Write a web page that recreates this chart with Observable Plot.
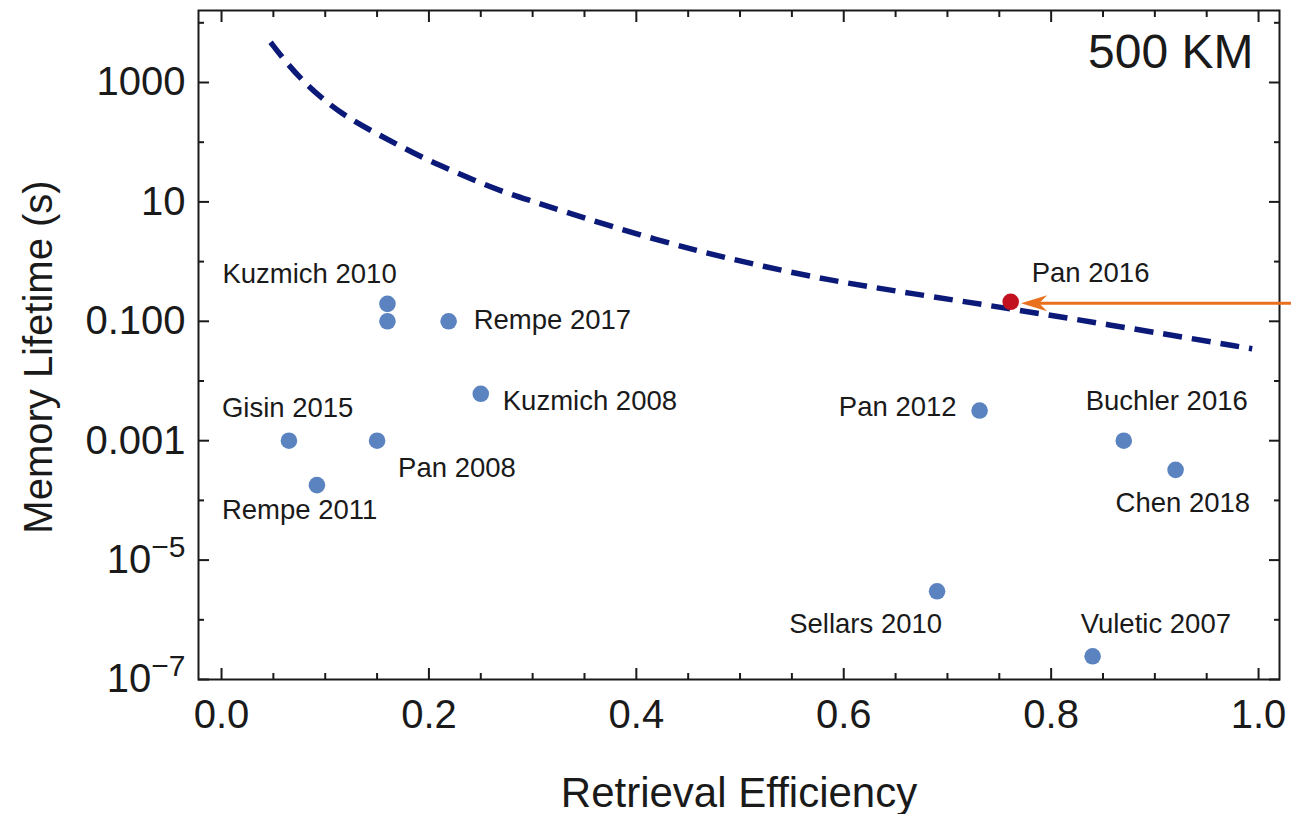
<!DOCTYPE html>
<html>
<head>
<meta charset="utf-8">
<script src="https://cdn.jsdelivr.net/npm/d3@7"></script>
<script src="https://cdn.jsdelivr.net/npm/@observablehq/plot@0.6"></script>
<style>
  body { margin: 0; background: #fff; }
  #chart svg { overflow: visible; display: block; }
</style>
</head>
<body>
<div id="chart"></div>
<script>
// ---------- data ----------
const studies    = ["Kuzmich 2010", "Kuzmich 2010", "Rempe 2017", "Kuzmich 2008", "Gisin 2015", "Pan 2008", "Rempe 2011", "Pan 2012", "Buchler 2016", "Chen 2018", "Sellars 2010", "Vuletic 2007"];
const efficiency = [0.160, 0.160, 0.219, 0.250, 0.065, 0.150, 0.092, 0.731, 0.870, 0.920, 0.690, 0.840];
const lifetime   = [0.196, 0.100, 0.100, 0.0061, 0.001, 0.001, 1.8e-4, 0.0032, 0.001, 3.25e-4, 3.0e-6, 2.45e-7];
const showLabel  = [true, false, true, true, true, true, true, true, true, true, true, true];

const highlightStudy = "Pan 2016";
const highlightEff = 0.761;
const highlightLife = 0.212;

// 500 km requirement curve
const curveEff  = [0.0473, 0.0634, 0.0826, 0.1051, 0.1273, 0.1501, 0.1743, 0.1996, 0.2257, 0.2514, 0.2770, 0.3028, 0.3269, 0.4202, 0.5005, 0.5841, 0.6612, 0.7609, 0.8798, 0.9939];
const curveLife = [4730, 2055, 891, 412, 226, 138, 82.5, 49.3, 31.4, 20.1, 13.7, 9.9, 7.18, 2.25, 1.0, 0.49, 0.30, 0.162, 0.0748, 0.0346];

// arrow pointing at the highlighted study
const arrowFrom = {eff: 1.032, life: 0.2};
const arrowTo   = {eff: 0.771, life: 0.2};
const arrowNotch = 0.788;

const distanceLabel = "500 KM";
const xTitle = "Retrieval Efficiency";
const yTitle = "Memory Lifetime (s)";

const xMajor = [0, 0.2, 0.4, 0.6, 0.8, 1.0];
const xMinor = [0.05, 0.1, 0.15, 0.25, 0.3, 0.35, 0.45, 0.5, 0.55, 0.65, 0.7, 0.75, 0.85, 0.9, 0.95];
const yMajor = [1e-7, 1e-5, 1e-3, 1e-1, 10, 1000];
const yMinor = [1e-6, 1e-4, 1e-2, 1, 100, 1e4];
const yTickText = ["10^−7", "10^−5", "0.001", "0.100", "10", "1000"];

// ---------- layout (label placement relative to each dot, px) ----------
const labelLayout = [
  {anchor: "start", dx: -165, dy: -21},
  null,
  {anchor: "start", dx: 25, dy: 8},
  {anchor: "start", dx: 22, dy: 16},
  {anchor: "start", dx: -67, dy: -24},
  {anchor: "start", dx: 21, dy: 36},
  {anchor: "start", dx: -95, dy: 34},
  {anchor: "end", dx: -23, dy: 5},
  {anchor: "start", dx: -38, dy: -31},
  {anchor: "start", dx: -60, dy: 42},
  {anchor: "end", dx: 5, dy: 42},
  {anchor: "start", dx: -12, dy: -23}
];

const FONT = "'Liberation Sans', Arial, Helvetica, sans-serif";
const INK = "#1a1a1a";
const ORANGE = "#e8701e";

const points = studies.map((s, i) => ({study: s, eff: efficiency[i], life: lifetime[i]}));
const curve = curveEff.map((e, i) => ({eff: e, life: curveLife[i]}));
const highlight = [{study: highlightStudy, eff: highlightEff, life: highlightLife}];

const labelMarks = points
  .map((p, i) => ({p, L: labelLayout[i], show: showLabel[i]}))
  .filter(d => d.show && d.L)
  .map(({p, L}) => Plot.text([p], {
    x: "eff", y: "life", text: "study",
    textAnchor: L.anchor, lineAnchor: "bottom",
    dx: L.dx, dy: L.dy, fontSize: 27.5, fill: INK
  }));

// barbed arrowhead pointing left, tip at the origin
const arrowHead = {
  draw(context) {
    context.moveTo(0, 0);
    context.lineTo(26, -8);
    context.lineTo(18, 0);
    context.lineTo(26, 8);
    context.closePath();
  }
};

const tickOpts = {stroke: INK, strokeWidth: 2, label: null, tickFormat: () => ""};

const chart = Plot.plot({
  width: 1291,
  height: 814,
  marginLeft: 198,
  marginRight: 12,
  marginTop: 10,
  marginBottom: 135,
  style: {fontFamily: FONT, background: "#fff", color: INK},
  x: {domain: [-0.0222, 1.0202]},
  y: {type: "log", domain: [1e-7, 16070]},
  marks: [
    // tick marks (inward, all four sides)
    Plot.axisX({...tickOpts, anchor: "bottom", ticks: xMajor, tickSize: -11}),
    Plot.axisX({...tickOpts, anchor: "bottom", ticks: xMinor, tickSize: -6}),
    Plot.axisX({...tickOpts, anchor: "top", ticks: xMajor, tickSize: -11}),
    Plot.axisX({...tickOpts, anchor: "top", ticks: xMinor, tickSize: -6}),
    Plot.axisY({...tickOpts, anchor: "left", ticks: yMajor, tickSize: -11}),
    Plot.axisY({...tickOpts, anchor: "left", ticks: yMinor, tickSize: -6}),
    Plot.axisY({...tickOpts, anchor: "right", ticks: yMajor, tickSize: -11}),
    Plot.axisY({...tickOpts, anchor: "right", ticks: yMinor, tickSize: -6}),
    // tick labels
    Plot.axisX({anchor: "bottom", ticks: xMajor, tickSize: 0, tickPadding: 20, fontSize: 40,
      tickFormat: d => d.toFixed(1), label: null, fill: INK}),
    Plot.axisY({anchor: "left", ticks: yMajor, tickSize: 0, tickPadding: 13, fontSize: 40,
      tickFormat: d => yTickText[yMajor.indexOf(d)], label: null, fill: INK}),
    // axis titles
    Plot.text([xTitle], {frameAnchor: "bottom", textAnchor: "middle", lineAnchor: "bottom",
      dy: 127, fontSize: 42, fill: INK}),
    Plot.text([yTitle], {frameAnchor: "left", rotate: -90, textAnchor: "middle", lineAnchor: "bottom",
      dx: -147, dy: 12, fontSize: 40, fill: INK}),
    Plot.frame({stroke: INK, strokeWidth: 2}),
    // requirement curve
    Plot.line(curve, {x: "eff", y: "life", curve: "basis", stroke: "#0b1a78",
      strokeWidth: 5.5, strokeDasharray: "19,10", strokeLinecap: "butt"}),
    // experiments
    Plot.dot(points, {x: "eff", y: "life", r: 8.3, fill: "#5b83c0"}),
    Plot.dot(highlight, {x: "eff", y: "life", r: 8.3, fill: "#c2121f"}),
    Plot.text(highlight, {x: "eff", y: "life", text: "study", textAnchor: "start", lineAnchor: "bottom",
      dx: 21, dy: -20, fontSize: 27.5, fill: INK}),
    ...labelMarks,
    // arrow: shaft + filled barbed head
    Plot.link([{x1: arrowFrom.eff, y1: arrowFrom.life, x2: arrowNotch, y2: arrowTo.life}], {
      x1: "x1", y1: "y1", x2: "x2", y2: "y2", stroke: ORANGE, strokeWidth: 3}),
    Plot.dot([arrowTo], {x: "eff", y: "life", symbol: arrowHead, r: 5, fill: ORANGE, stroke: "none"}),
    Plot.text([distanceLabel], {frameAnchor: "top-right", textAnchor: "end", lineAnchor: "top",
      dx: -26, dy: 23, fontSize: 48, fill: INK})
  ]
});

// superscript exponents on the log tick labels
chart.querySelectorAll("text").forEach(t => {
  const m = t.textContent.match(/^10\^(.+)$/);
  if (m) {
    t.textContent = "10";
    const ts = document.createElementNS("http://www.w3.org/2000/svg", "tspan");
    ts.setAttribute("dy", "-16");
    ts.setAttribute("font-size", "30");
    ts.textContent = m[1];
    t.appendChild(ts);
  }
});

document.getElementById("chart").appendChild(chart);
</script>
</body>
</html>
